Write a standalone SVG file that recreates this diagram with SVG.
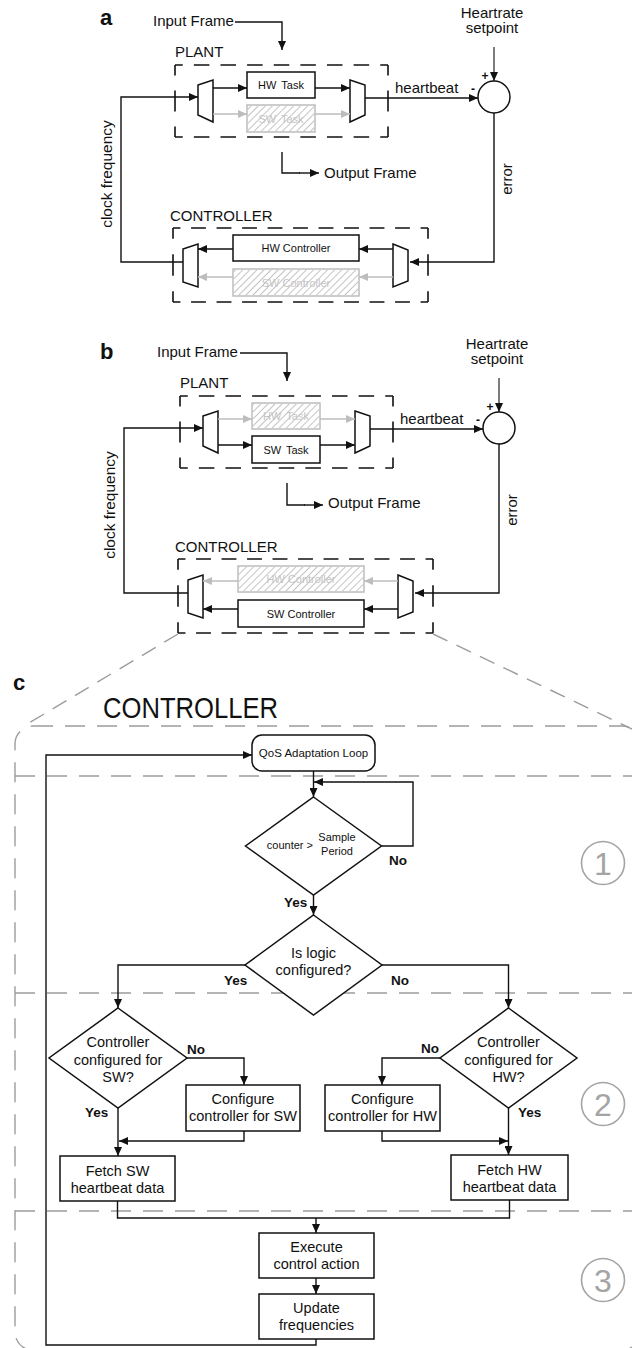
<svg xmlns="http://www.w3.org/2000/svg" width="632" height="1348" viewBox="0 0 632 1348">
<defs>
<style>
  text { font-family: "Liberation Sans", Arial, Helvetica, sans-serif; fill: #111; }
  .lbl { font-size: 15px; }
  .tag { font-size: 22px; font-weight: bold; }
  .small { font-size: 11px; }
  .gtxt { font-size: 11px; fill: #c4c4c4; }
  .sign { font-size: 12px; font-weight: bold; }
  .yn { font-size: 13.5px; font-weight: bold; }
  .fc { font-size: 14.5px; }
  .tiny { font-size: 11px; }
  .mid { text-anchor: middle; }
  .end { text-anchor: end; }
  .ws { word-spacing: 2px; }
  .wire { fill: none; stroke: #111; stroke-width: 1.4; }
  .thin { stroke-width: 1.1; }
  .wire-g { fill: none; stroke: #bdbdbd; stroke-width: 1.4; }
  .arr { marker-end: url(#ah); }
  .arr-g { marker-end: url(#ahg); }
  .box { fill: #fff; stroke: #111; stroke-width: 1.5; }
  .hbox { fill: #fff; stroke: #bdbdbd; stroke-width: 1.5; }
  .hatch { fill: url(#hatch); stroke: none; }
  .mux { fill: #fff; stroke: #111; stroke-width: 1.5; }
  .dash { fill: none; stroke: #111; stroke-width: 1.6; stroke-dasharray: 14 10; stroke-dashoffset: 7; }
  .gdash { fill: none; stroke: #9c9c9c; stroke-width: 1.4; stroke-dasharray: 20 12; }
  .step { fill: none; stroke: #a4a4a4; stroke-width: 1.6; }
  .stepnum { font-size: 32px; fill: #a4a4a4; text-anchor: middle; }
  .title { font-size: 29px; }
</style>
<marker id="ah" markerUnits="userSpaceOnUse" markerWidth="10" markerHeight="8" refX="9" refY="4" orient="auto">
  <path d="M0,0 L9,4 L0,8 Z" fill="#111"/>
</marker>
<marker id="ahg" markerUnits="userSpaceOnUse" markerWidth="10" markerHeight="8" refX="9" refY="4" orient="auto">
  <path d="M0,0 L9,4 L0,8 Z" fill="#bdbdbd"/>
</marker>
<pattern id="hatch" patternUnits="userSpaceOnUse" width="5" height="5" patternTransform="rotate(45)">
  <line x1="2.5" y1="0" x2="2.5" y2="5" stroke="#c4c4c4" stroke-width="1"/>
</pattern>
</defs>

<rect width="632" height="1348" fill="#fff"/>

<!-- panel letters -->
<text class="tag" x="100" y="25">a</text>
<text class="tag" x="100" y="359">b</text>
<text class="tag" x="13" y="690">c</text>

<!-- ================= Panel a: hardware path active ================= -->
<g id="panel-a">
  <g id="a-plant">
    <line class="dash" x1="175" y1="65" x2="388" y2="65" pathLength="192"/>
    <line class="dash" x1="175" y1="137" x2="388" y2="137" pathLength="192"/>
    <line class="dash" x1="175" y1="65" x2="175" y2="137" pathLength="48"/>
    <line class="dash" x1="388" y1="65" x2="388" y2="137" pathLength="48"/>
    <text class="lbl" x="175" y="57">PLANT</text>
  </g>
  <g id="a-controller">
    <line class="dash" x1="173" y1="228" x2="428" y2="228" pathLength="240"/>
    <line class="dash" x1="173" y1="302" x2="428" y2="302" pathLength="240"/>
    <line class="dash" x1="173" y1="228" x2="173" y2="302" pathLength="48"/>
    <line class="dash" x1="428" y1="228" x2="428" y2="302" pathLength="48"/>
    <text class="lbl" x="170" y="221">CONTROLLER</text>
  </g>
  <g id="a-hw-task">
    <rect class="box" x="247" y="72" width="68" height="26"/>
    <text class="small mid ws" x="281" y="88.5">HW Task</text>
  </g>
  <g id="a-sw-task">
    <rect class="hbox" x="247" y="105" width="68" height="27"/>
    <text class="gtxt mid ws" x="281" y="122.5">SW Task</text>
    <rect class="hatch" x="248" y="106" width="66" height="25"/>
  </g>
  <g id="a-hw-controller">
    <rect class="box" x="233" y="235" width="126" height="26"/>
    <text class="small mid" x="296" y="252">HW Controller</text>
  </g>
  <g id="a-sw-controller">
    <rect class="hbox" x="233" y="269" width="126" height="27"/>
    <text class="gtxt mid" x="296" y="286.5">SW Controller</text>
    <rect class="hatch" x="234" y="270" width="124" height="25"/>
  </g>
  <g id="a-plant-demux"><polygon class="mux" points="198,85 213,80 213,122 198,115"/></g>
  <g id="a-plant-mux"><polygon class="mux" points="350,80 365,85 365,115 350,122"/></g>
  <g id="a-ctrl-mux"><polygon class="mux" points="183,249 198,244 198,287 183,282"/></g>
  <g id="a-ctrl-demux"><polygon class="mux" points="393,244 408,250 408,281 393,287"/></g>
  <g id="a-sum">
    <circle cx="494" cy="97" r="16" fill="#fff" stroke="#111" stroke-width="1.5"/>
    <text class="sign mid" x="485" y="80">+</text>
    <text class="sign mid" x="473" y="93">-</text>
  </g>
  <g id="a-setpoint">
    <text class="lbl mid" x="492" y="18">Heartrate</text>
    <text class="lbl mid" x="492" y="33">setpoint</text>
  </g>
  <g id="a-input"><text class="lbl" x="153" y="26">Input Frame</text></g>
  <g id="a-output"><text class="lbl" x="324" y="178">Output Frame</text></g>

  <g id="a-connectors">
    <path class="wire arr" d="M235,22 H282 V50"/>
    <path class="wire" d="M282,152 V173 H300"/>
    <path class="wire arr" d="M299,173 H319"/>
    <path class="wire arr" d="M183,262 H121 V97 H198"/>
    <path class="wire arr" d="M213,88 H247"/>
    <path class="wire arr" d="M315,88 H350"/>
    <path class="wire-g arr-g" d="M213,114 H247"/>
    <path class="wire-g arr-g" d="M315,114 H350"/>
    <path class="wire arr" d="M365,98 H478"/>
    <path class="wire thin arr" d="M494,47 V81"/>
    <path class="wire arr" d="M494,113 V262 H410"/>
    <path class="wire arr" d="M393,249 H359"/>
    <path class="wire arr" d="M233,249 H198"/>
    <path class="wire-g arr-g" d="M393,277 H359"/>
    <path class="wire-g arr-g" d="M233,277 H198"/>
    <text class="lbl" x="395" y="93">heartbeat</text>
    <text class="lbl mid" transform="translate(112,174) rotate(-90)" style="font-size:15.5px">clock frequency</text>
    <text class="lbl mid" transform="translate(512,179) rotate(-90)">error</text>
  </g>
</g>

<!-- ================= Panel b: software path active ================= -->
<g id="panel-b" transform="translate(5,331)">
  <g id="b-plant">
    <line class="dash" x1="175" y1="65" x2="388" y2="65" pathLength="192"/>
    <line class="dash" x1="175" y1="137" x2="388" y2="137" pathLength="192"/>
    <line class="dash" x1="175" y1="65" x2="175" y2="137" pathLength="48"/>
    <line class="dash" x1="388" y1="65" x2="388" y2="137" pathLength="48"/>
    <text class="lbl" x="175" y="57">PLANT</text>
  </g>
  <g id="b-controller">
    <line class="dash" x1="173" y1="228" x2="428" y2="228" pathLength="240"/>
    <line class="dash" x1="173" y1="302" x2="428" y2="302" pathLength="240"/>
    <line class="dash" x1="173" y1="228" x2="173" y2="302" pathLength="48"/>
    <line class="dash" x1="428" y1="228" x2="428" y2="302" pathLength="48"/>
    <text class="lbl" x="170" y="221">CONTROLLER</text>
  </g>
  <g id="b-hw-task">
    <rect class="hbox" x="247" y="72" width="68" height="26"/>
    <text class="gtxt mid ws" x="281" y="88.5">HW Task</text>
    <rect class="hatch" x="248" y="73" width="66" height="24"/>
  </g>
  <g id="b-sw-task">
    <rect class="box" x="247" y="105" width="68" height="27"/>
    <text class="small mid ws" x="281" y="122.5">SW Task</text>
  </g>
  <g id="b-hw-controller">
    <rect class="hbox" x="233" y="235" width="126" height="26"/>
    <text class="gtxt mid" x="296" y="252">HW Controller</text>
    <rect class="hatch" x="234" y="236" width="124" height="24"/>
  </g>
  <g id="b-sw-controller">
    <rect class="box" x="233" y="269" width="126" height="27"/>
    <text class="small mid" x="296" y="286.5">SW Controller</text>
  </g>
  <g id="b-plant-demux"><polygon class="mux" points="198,85 213,80 213,122 198,115"/></g>
  <g id="b-plant-mux"><polygon class="mux" points="350,80 365,85 365,115 350,122"/></g>
  <g id="b-ctrl-mux"><polygon class="mux" points="183,249 198,244 198,287 183,282"/></g>
  <g id="b-ctrl-demux"><polygon class="mux" points="393,244 408,250 408,281 393,287"/></g>
  <g id="b-sum">
    <circle cx="494" cy="97" r="16" fill="#fff" stroke="#111" stroke-width="1.5"/>
    <text class="sign mid" x="485" y="80">+</text>
    <text class="sign mid" x="473" y="93">-</text>
  </g>
  <g id="b-setpoint">
    <text class="lbl mid" x="492" y="18">Heartrate</text>
    <text class="lbl mid" x="492" y="33">setpoint</text>
  </g>
  <g id="b-input"><text class="lbl" x="152" y="26">Input Frame</text></g>
  <g id="b-output"><text class="lbl" x="323" y="177">Output Frame</text></g>

  <g id="b-connectors">
    <path class="wire arr" d="M235,22 H282 V50"/>
    <path class="wire" d="M282,152 V174 H300"/>
    <path class="wire arr" d="M299,174 H318"/>
    <path class="wire arr" d="M183,262 H119 V97 H198"/>
    <path class="wire-g arr-g" d="M213,88 H247"/>
    <path class="wire-g arr-g" d="M315,88 H350"/>
    <path class="wire arr" d="M213,114 H247"/>
    <path class="wire arr" d="M315,114 H350"/>
    <path class="wire arr" d="M365,98 H478"/>
    <path class="wire thin arr" d="M494,47 V81"/>
    <path class="wire arr" d="M494,113 V262 H410"/>
    <path class="wire-g arr-g" d="M393,250 H359"/>
    <path class="wire-g arr-g" d="M233,250 H198"/>
    <path class="wire arr" d="M393,278 H359"/>
    <path class="wire arr" d="M233,278 H198"/>
    <text class="lbl" x="395" y="93">heartbeat</text>
    <text class="lbl mid" transform="translate(110,174) rotate(-90)" style="font-size:15.5px">clock frequency</text>
    <text class="lbl mid" transform="translate(512,179) rotate(-90)">error</text>
  </g>
</g>

<!-- ================= Panel c: controller flowchart ================= -->
<g id="panel-c">
  <g id="c-frame">
    <line class="gdash" x1="178" y1="634" x2="24" y2="726" style="stroke-dasharray:16 10"/>
    <line class="gdash" x1="433" y1="634" x2="632" y2="729" style="stroke-dasharray:16 10"/>
    <rect class="gdash" x="15" y="726" width="625" height="624" rx="18"/>
    <line class="gdash" x1="15" y1="776" x2="632" y2="776"/>
    <line class="gdash" x1="15" y1="993" x2="632" y2="993"/>
    <line class="gdash" x1="15" y1="1211" x2="632" y2="1211"/>
    <text class="title" x="103" y="718" textLength="175" lengthAdjust="spacingAndGlyphs">CONTROLLER</text>
  </g>

  <g id="c-step1">
    <circle class="step" cx="603" cy="863" r="21.5"/>
    <text class="stepnum" x="603" y="874.5">1</text>
  </g>
  <g id="c-step2">
    <circle class="step" cx="603" cy="1104" r="21.5"/>
    <text class="stepnum" x="603" y="1115.5">2</text>
  </g>
  <g id="c-step3">
    <circle class="step" cx="603" cy="1280" r="21.5"/>
    <text class="stepnum" x="603" y="1291.5">3</text>
  </g>

  <g id="c-connectors">
    <path class="wire arr" d="M316,1339 V1345 H46 V755 H252"/>
    <path class="wire arr" d="M313.5,771 V797"/>
    <path class="wire arr" d="M381.5,846 H413 V782 H314"/>
    <path class="wire arr" d="M313.5,895 V915"/>
    <path class="wire arr" d="M245,965 H118 V1008"/>
    <path class="wire arr" d="M382,965 H508.5 V1008"/>
    <path class="wire arr" d="M187,1058 H244 V1085"/>
    <path class="wire arr" d="M440,1058 H382 V1085"/>
    <path class="wire arr" d="M118,1108 V1156"/>
    <path class="wire arr" d="M508.5,1108 V1155"/>
    <path class="wire arr" d="M244,1131 V1141 H119"/>
    <path class="wire arr" d="M382,1131 V1141 H508"/>
    <path class="wire" d="M117.5,1201 V1218 H509.5 V1200"/>
    <path class="wire arr" d="M316,1218 V1233"/>
    <path class="wire arr" d="M316,1278 V1294"/>
    <text class="yn" x="389" y="865">No</text>
    <text class="yn" x="284" y="907">Yes</text>
    <text class="yn" x="224" y="985">Yes</text>
    <text class="yn" x="391" y="985">No</text>
    <text class="yn" x="187" y="1054">No</text>
    <text class="yn" x="421" y="1053">No</text>
    <text class="yn" x="85" y="1117">Yes</text>
    <text class="yn" x="518" y="1117">Yes</text>
  </g>

  <g id="c-qos">
    <rect class="box" x="252" y="735" width="123" height="36" rx="10"/>
    <text class="mid" x="313.5" y="757" style="font-size:11.5px">QoS Adaptation Loop</text>
  </g>
  <g id="c-counter">
    <polygon class="box" points="313.5,797 381.5,846 313.5,895 245.5,846"/>
    <text class="tiny end" x="313" y="849">counter &gt;</text>
    <text class="tiny mid" x="337" y="841">Sample</text>
    <text class="tiny mid" x="337" y="855">Period</text>
  </g>
  <g id="c-logic">
    <polygon class="box" points="313.5,915 382,965 313.5,1015 245,965"/>
    <text class="fc mid" x="313.5" y="958">Is logic</text>
    <text class="fc mid" x="313.5" y="975">configured?</text>
  </g>
  <g id="c-sw-check">
    <polygon class="box" points="118,1008 187,1058 118,1108 49,1058"/>
    <text class="fc mid" x="118" y="1047">Controller</text>
    <text class="fc mid" x="118" y="1064.5">configured for</text>
    <text class="fc mid" x="118" y="1082">SW?</text>
  </g>
  <g id="c-hw-check">
    <polygon class="box" points="508.5,1008 577,1058 508.5,1108 440,1058"/>
    <text class="fc mid" x="508.5" y="1047">Controller</text>
    <text class="fc mid" x="508.5" y="1064.5">configured for</text>
    <text class="fc mid" x="508.5" y="1082">HW?</text>
  </g>
  <g id="c-config-sw">
    <rect class="box" x="186" y="1085" width="114" height="46"/>
    <text class="fc mid" x="243" y="1104">Configure</text>
    <text class="fc mid" x="243" y="1121">controller for SW</text>
  </g>
  <g id="c-config-hw">
    <rect class="box" x="325" y="1085" width="115" height="46"/>
    <text class="fc mid" x="382.5" y="1104">Configure</text>
    <text class="fc mid" x="382.5" y="1121">controller for HW</text>
  </g>
  <g id="c-fetch-sw">
    <rect class="box" x="60" y="1156" width="115" height="45"/>
    <text class="fc mid" x="117.5" y="1176">Fetch SW</text>
    <text class="fc mid" x="117.5" y="1193">heartbeat data</text>
  </g>
  <g id="c-fetch-hw">
    <rect class="box" x="451" y="1155" width="117" height="45"/>
    <text class="fc mid" x="509.5" y="1175">Fetch HW</text>
    <text class="fc mid" x="509.5" y="1192">heartbeat data</text>
  </g>
  <g id="c-execute">
    <rect class="box" x="259" y="1233" width="115" height="45"/>
    <text class="fc mid" x="316.5" y="1252">Execute</text>
    <text class="fc mid" x="316.5" y="1269">control action</text>
  </g>
  <g id="c-update">
    <rect class="box" x="259" y="1294" width="115" height="45"/>
    <text class="fc mid" x="316.5" y="1313">Update</text>
    <text class="fc mid" x="316.5" y="1330">frequencies</text>
  </g>
</g>
</svg>
